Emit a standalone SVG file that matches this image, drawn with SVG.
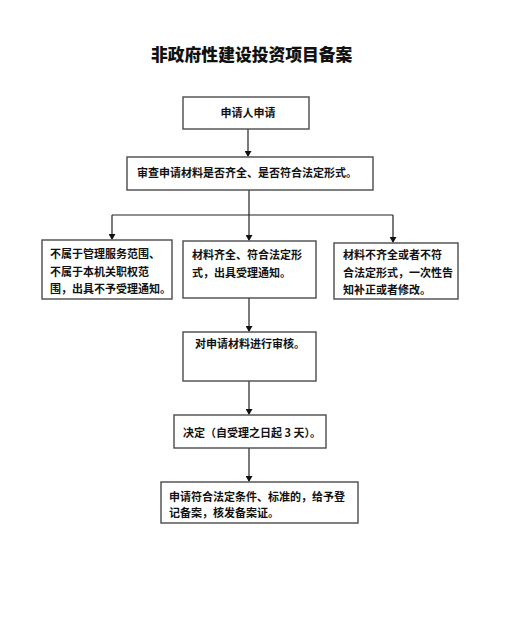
<svg xmlns="http://www.w3.org/2000/svg" width="515" height="623" viewBox="0 0 515 623">
<style>
.box{fill:#fff;stroke:#4a4a4a;stroke-width:1.4}
.t{font-family:"Noto Sans CJK SC","Noto Sans",sans-serif;font-weight:700;font-size:11px;fill:#111}
.title{font-family:"Noto Sans CJK SC","Noto Sans",sans-serif;font-weight:900;font-size:16.8px;fill:#111}
.c{fill:none;stroke:#222;stroke-width:1.2}
</style>
<defs>
<marker id="ah" markerWidth="6" markerHeight="7" refX="5" refY="3.5" orient="auto" markerUnits="userSpaceOnUse">
<path d="M0,0 L6,3.5 L0,7 Z" fill="#111"/>
</marker>
</defs>
<rect width="515" height="623" fill="#fff"/>
<text class="title" x="151" y="61">非政府性建设投资项目备案</text>
<g id="connectors">
<path class="c" d="M248,129 V156" marker-end="url(#ah)"/>
<path class="c" d="M249,190 V240" marker-end="url(#ah)"/>
<path class="c" d="M112,215 H393"/>
<path class="c" d="M112,215 V239" marker-end="url(#ah)"/>
<path class="c" d="M393,215 V242" marker-end="url(#ah)"/>
<path class="c" d="M249,298 V331" marker-end="url(#ah)"/>
<path class="c" d="M249,381 V414" marker-end="url(#ah)"/>
<path class="c" d="M249,448 V481" marker-end="url(#ah)"/>
</g>
<g id="n1">
<rect class="box" x="183" y="97" width="126" height="32"/>
<text class="t" x="248" y="117" text-anchor="middle">申请人申请</text>
</g>
<g id="n2">
<rect class="box" x="127" y="157" width="246" height="33"/>
<text class="t" x="137" y="177">审查申请材料是否齐全、是否符合法定形式。</text>
</g>
<g id="n3">
<rect class="box" x="42" y="240" width="130" height="59"/>
<text class="t" x="50" y="258">不属于管理服务范围、</text>
<text class="t" x="50" y="276">不属于本机关职权范</text>
<text class="t" x="50" y="293">围，出具不予受理通知。</text>
</g>
<g id="n4">
<rect class="box" x="183" y="241" width="133" height="57"/>
<text class="t" x="192" y="259">材料齐全、符合法定形</text>
<text class="t" x="192" y="277">式，出具受理通知。</text>
</g>
<g id="n5">
<rect class="box" x="334" y="243" width="124" height="56"/>
<text class="t" x="343" y="259">材料不齐全或者不符</text>
<text class="t" x="343" y="277">合法定形式，一次性告</text>
<text class="t" x="343" y="294">知补正或者修改。</text>
</g>
<g id="n6">
<rect class="box" x="183" y="332" width="133" height="49"/>
<text class="t" x="195" y="348">对申请材料进行审核。</text>
</g>
<g id="n7">
<rect class="box" x="174" y="415" width="152" height="33"/>
<text class="t" x="183" y="437">决定（自受理之日起 3 天）。</text>
</g>
<g id="n8">
<rect class="box" x="161" y="482" width="197" height="41"/>
<text class="t" x="169" y="501">申请符合法定条件、标准的，给予登</text>
<text class="t" x="169" y="517">记备案，核发备案证。</text>
</g>
</svg>
